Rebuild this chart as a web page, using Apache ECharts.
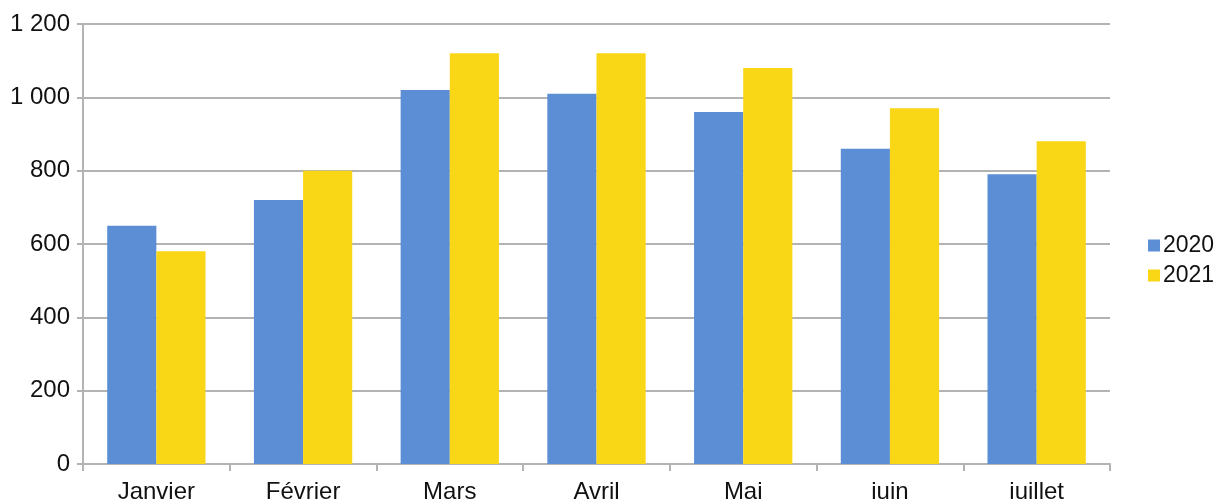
<!DOCTYPE html>
<html style="height: 100%">
<head>
    <meta charset="utf-8">
</head>
<body style="height: 100%; margin: 0; background: #fff">
<div id="container" style="width: 1216px; height: 499px"></div>
<script type="text/javascript" src="https://cdn.jsdelivr.net/npm/echarts@6/dist/echarts.min.js"></script>
<script type="text/javascript">
var months = ['Janvier', 'Février', 'Mars', 'Avril', 'Mai', 'juin', 'juillet'];
var values2020 = [650, 720, 1020, 1010, 960, 860, 790];
var values2021 = [580, 800, 1120, 1120, 1080, 970, 880];

var myChart = echarts.init(document.getElementById('container'));

var font = 'Liberation Sans';

var option = {
    backgroundColor: '#fff',
    animation: false,
    grid: {
        left: 83,
        right: 106,
        top: 24,
        bottom: 35,
        outerBoundsMode: 'none'
    },
    legend: {
        orient: 'vertical',
        left: 1143,
        top: 229,
        itemWidth: 12,
        itemHeight: 12,
        itemGap: 7,
        icon: 'rect',
        textStyle: {
            fontFamily: font,
            fontSize: 23,
            color: '#111',
            padding: [0, 0, 0, -2]
        },
        data: ['2020', '2021']
    },
    xAxis: {
        type: 'category',
        data: months,
        axisLine: { lineStyle: { color: '#b3b3b3', width: 2 } },
        axisTick: { show: true, length: 7, lineStyle: { color: '#b3b3b3', width: 2 } },
        axisLabel: {
            fontFamily: font,
            fontSize: 24,
            color: '#111',
            margin: 16
        }
    },
    yAxis: {
        type: 'value',
        min: 0,
        max: 1200,
        interval: 200,
        axisLine: { show: true, lineStyle: { color: '#b3b3b3', width: 2 } },
        axisTick: { show: true, length: 6, lineStyle: { color: '#b3b3b3', width: 2 } },
        splitLine: { lineStyle: { color: '#b3b3b3', width: 2 } },
        axisLabel: {
            fontFamily: font,
            fontSize: 24,
            color: '#111',
            margin: 13,
            formatter: function (v) {
                return String(v).replace(/\B(?=(\d{3})+(?!\d))/g, ' ');
            }
        }
    },
    series: [{
        name: '2020',
        type: 'bar',
        data: values2020,
        barGap: 0,
        barCategoryGap: '33%',
        itemStyle: { color: '#5b8ed5' }
    }, {
        name: '2021',
        type: 'bar',
        data: values2021,
        barGap: 0,
        barCategoryGap: '33%',
        itemStyle: { color: '#f9d616' }
    }]
};

myChart.setOption(option);
</script>
</body>
</html>
